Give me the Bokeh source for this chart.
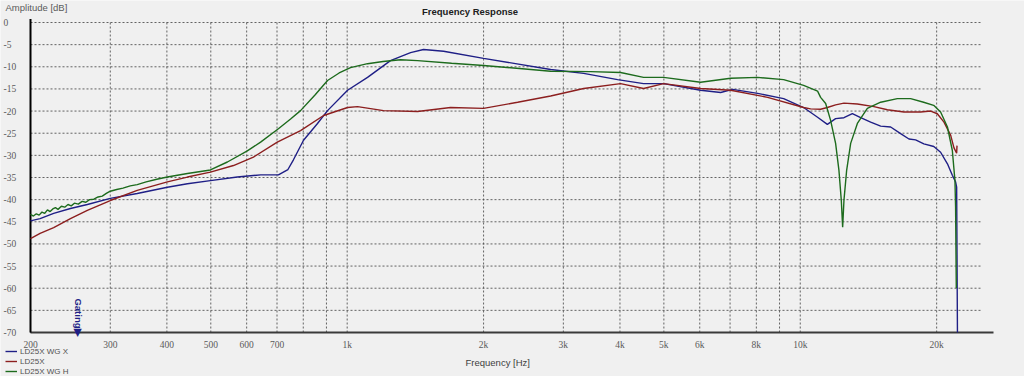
import math
from bokeh.plotting import figure
from bokeh.models import Label, LabelSet, ColumnDataSource, Legend, LegendItem
from bokeh.embed import file_html
from bokeh.resources import INLINE

# ---------------- data ----------------
blue_f = [200, 210, 225, 245, 267, 300, 344, 401, 444, 499, 572, 644, 705, 740, 761, 801, 860, 905,
          1002, 1109, 1246, 1380, 1474, 1632, 2000, 2812, 3326, 3952, 4510, 4993, 6026, 6674, 7090,
          8052, 9190, 10172, 10920, 11476, 11968, 12486, 13032, 13594, 14302, 15048, 15832, 16654,
          17374, 17972, 18740, 19714, 20406, 21128, 21660, 22020, 22140, 22230]
blue_db = [-44.8, -44.3, -43.1, -42.0, -41.1, -39.7, -38.6, -37.2, -36.4, -35.7, -34.9, -34.4, -34.4, -33.2,
           -31.0, -26.6, -22.8, -19.9, -15.3, -12.4, -8.6, -6.8, -6.1, -6.5, -8.1, -10.6, -11.5, -12.9,
           -13.8, -13.8, -15.3, -15.8, -15.1, -16.0, -17.2, -19.2, -21.4, -23.0, -21.7, -21.5, -20.6,
           -21.5, -22.5, -23.4, -23.6, -25.1, -26.3, -26.5, -27.4, -28.0, -29.3, -31.9, -34.5, -36.0,
           -37.2, -70.0]

red_f = [200, 210, 225, 245, 267, 300, 344, 401, 444, 499, 561, 621, 701, 789, 887, 1002, 1054, 1203,
         1430, 1691, 2000, 2378, 2812, 3326, 4012, 4510, 4993, 6026, 7020, 8472, 10172, 10540, 11090,
         11476, 11968, 12486, 13368, 14544, 15568, 16938, 18436, 19400, 20070, 20760, 21482, 21840,
         22140, 22180]
red_db = [-48.8, -47.6, -46.3, -44.3, -42.4, -40.2, -37.9, -36.0, -34.9, -33.8, -32.3, -30.4, -27.0,
          -24.4, -21.0, -19.2, -19.0, -19.9, -20.1, -19.2, -19.4, -18.0, -16.6, -14.9, -13.8, -14.9,
          -13.8, -14.9, -15.3, -16.9, -19.2, -19.5, -19.6, -19.2, -18.6, -18.2, -18.4, -19.0, -19.7,
          -20.2, -20.2, -20.0, -20.6, -22.5, -25.5, -28.3, -29.5, -27.8]

green_f = [200, 203, 206, 209, 212, 215, 218, 221, 224, 227, 230, 234, 238, 242, 246, 250, 255, 260,
           265, 270, 276, 282, 288, 294, 300, 310, 320, 332, 344, 360, 380, 401, 444, 499, 544, 602,
           644, 705, 750, 789, 850, 905, 960, 1017, 1109, 1200, 1311, 1430, 1700, 2000, 2812, 3446,
           4012, 4510, 4993, 6026, 7020, 8052, 9190, 10172, 10920, 11090, 11378, 11668, 11968, 12172,
           12320, 12404, 12486, 12658, 12920, 13368, 14062, 15048, 16378, 17522, 18720, 19700, 20406,
           21128, 21660, 21950, 22020, 22100]
green_db = [-43.3, -43.7, -43.2, -43.5, -42.8, -43.1, -42.3, -42.7, -42.1, -41.8, -42.2, -41.5, -41.7,
            -41.1, -41.4, -40.8, -41.0, -40.4, -40.6, -40.0, -39.9, -39.4, -39.2, -38.6, -38.1, -37.7,
            -37.4, -36.9, -36.6, -36.0, -35.4, -34.9, -34.1, -33.3, -31.5, -29.0, -27.0, -24.0, -21.8,
            -19.9, -16.3, -13.1, -11.4, -10.2, -9.3, -8.8, -8.4, -8.6, -9.2, -9.7, -11.0, -11.1, -11.3,
            -12.4, -12.4, -13.5, -12.6, -12.4, -12.9, -14.2, -15.5, -16.9, -18.3, -22.1, -27.3, -33.4,
            -40.2, -46.2, -40.2, -33.4, -27.3, -22.8, -19.4, -18.0, -17.2, -17.2, -18.0, -18.7, -20.2,
            -23.6, -28.9, -35.7, -41.7, -60.0]

series_names = ["LD25X WG X", "LD25X", "LD25X WG H"]
series_colors = ["#1f1f86", "#8c1f1f", "#1d6b1d"]

x_ticks = [200, 300, 400, 500, 600, 700, 800, 900, 1000, 2000, 3000, 4000, 5000, 6000, 7000,
           8000, 9000, 10000, 20000]
x_tick_labels = ["200", "300", "400", "500", "600", "700", "", "", "1k", "2k", "3k", "4k", "5k",
                 "6k", "", "8k", "", "10k", "20k"]
y_ticks = [0, -5, -10, -15, -20, -25, -30, -35, -40, -45, -50, -55, -60, -65, -70]
y_tick_labels = [str(v) for v in y_ticks]

x_min, x_axis_end, x_grid_end = 200, 26700, 25100
y_min, y_max = -70, 0
gating_freq = 255

# ---------------- layout (pixels) ----------------
W, H = 1024, 376
left_px, right_px, top_px, bottom_px = 30, 993, 22, 332
FONT = "Liberation Sans"

dec_px = (right_px - left_px) / math.log10(x_axis_end / x_min)
x_lo = x_min / 10 ** (left_px / dec_px)
x_hi = x_axis_end * 10 ** ((W - right_px) / dec_px)
db_px = (bottom_px - top_px) / (y_max - y_min)
y_hi = y_max + top_px / db_px
y_lo = y_min - (H - bottom_px) / db_px

p = figure(width=W, height=H, x_axis_type="log", x_range=(x_lo, x_hi), y_range=(y_lo, y_hi),
           x_axis_location=None, y_axis_location=None, title=None,
           output_backend="svg", toolbar_location=None, min_border=0)
p.border_fill_color = "#f0f0f0"
p.background_fill_color = "#f0f0f0"
p.outline_line_color = None
p.xgrid.visible = False
p.ygrid.visible = False

# grid lines built from the tick lists
grid_kw = dict(line_color="#4a4a4a", line_dash="2 2", line_width=1, line_alpha=0.85)
p.segment(x0=x_ticks, y0=[y_min] * len(x_ticks), x1=x_ticks, y1=[y_max] * len(x_ticks), **grid_kw)
p.segment(x0=[x_min] * len(y_ticks), y0=y_ticks, x1=[x_grid_end] * len(y_ticks), y1=y_ticks, **grid_kw)

# axis lines
p.segment(x0=[x_min], y0=[y_min], x1=[x_axis_end], y1=[y_min], line_color="#3a3a3a", line_width=2)
p.segment(x0=[x_min], y0=[y_min], x1=[x_min], y1=[y_max + 0.8], line_color="#000000", line_width=2)

# curves
renderers = []
for f, d, c in zip([blue_f, red_f, green_f], [blue_db, red_db, green_db], series_colors):
    renderers.append(p.line(f, d, line_color=c, line_width=1.4))

# tick labels
xsrc = ColumnDataSource(dict(x=x_ticks, y=[y_min] * len(x_ticks), text=x_tick_labels))
p.add_layout(LabelSet(x="x", y="y", text="text", source=xsrc, y_offset=-12,
                      text_align="center", text_baseline="middle",
                      text_font=FONT, text_font_size="9.5px", text_color="#5a5a5a"))
ysrc = ColumnDataSource(dict(y=y_ticks, text=y_tick_labels))
p.add_layout(LabelSet(x=3, y="y", text="text", source=ysrc, x_units="screen",
                      text_align="left", text_baseline="middle",
                      text_font=FONT, text_font_size="9.5px", text_color="#5a5a5a"))

# texts
p.add_layout(Label(x=5, y=H - 6.5, x_units="screen", y_units="screen", text="Amplitude [dB]",
                   text_font=FONT, text_font_size="9.5px", text_color="#5a5a5a",
                   text_align="left", text_baseline="middle"))
p.add_layout(Label(x=421.5, y=H - 11, x_units="screen", y_units="screen", text="Frequency Response",
                   text_font=FONT, text_font_size="9.5px", text_font_style="bold",
                   text_color="#202020", text_align="left", text_baseline="middle"))
p.add_layout(Label(x=465, y=H - 361.5, x_units="screen", y_units="screen", text="Frequency [Hz]",
                   text_font=FONT, text_font_size="9.5px", text_color="#404040",
                   text_align="left", text_baseline="middle"))

# gating marker
p.add_layout(Label(x=gating_freq, y=y_min, text="Gating\u25B6", angle=-math.pi / 2,
                   text_align="right", text_baseline="middle", y_offset=-4,
                   text_font=FONT, text_font_size="9.5px", text_font_style="bold",
                   text_color="#1f1f86"))

# legend
legend = Legend(items=[LegendItem(label=n, renderers=[r]) for n, r in zip(series_names, renderers)],
                location=(5, 0), orientation="vertical", spacing=0, padding=0, margin=0,
                label_height=10, glyph_height=10, glyph_width=12, label_standoff=3,
                label_text_font=FONT, label_text_font_size="8px", label_text_color="#505050",
                background_fill_alpha=0, border_line_color=None)
p.add_layout(legend)

open("out.html", "w").write(file_html(p, INLINE))
